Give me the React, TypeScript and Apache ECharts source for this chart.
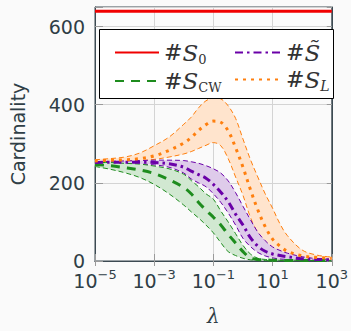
import React, { useEffect, useRef } from 'react';
import * as echarts from 'echarts';

// log10(lambda) sample positions
const exps = [-5, -4.5, -4, -3.5, -3, -2.5, -2, -1.75, -1.5, -1.25, -1, -0.75, -0.5, -0.25, 0, 0.25, 0.5, 0.75, 1, 1.25, 1.5, 2, 2.5, 3];

// #S_0 (constant)
const s0Exps = [-5, 3];
const s0Values = [639, 639];

// #S_L (orange)
const slMean = [256, 258, 259, 262, 269, 283, 302, 316, 334, 349, 358, 355, 333, 290, 240, 183, 131, 88, 56, 38, 25, 13, 9, 7];
const slUpper = [259, 262, 266, 276, 295, 317, 350, 368, 392, 410, 417, 415, 397, 365, 312, 260, 215, 172, 135, 95, 65, 28, 15, 10];
const slLower = [253, 254, 255, 257, 260, 266, 274, 280, 288, 296, 303, 295, 262, 215, 168, 112, 72, 48, 30, 20, 13, 6, 4, 3];

// #S~ (purple)
const stMean = [252, 253, 253, 253, 252, 249, 240, 230, 221, 212, 196, 176, 152, 120, 92, 60, 38, 25, 18, 14, 11, 6, 4, 3];
const stUpper = [254, 255, 256, 257, 258, 258, 257, 254, 250, 244, 236, 225, 205, 175, 140, 106, 74, 52, 36, 27, 20, 11, 6, 4];
const stLower = [250, 250, 249, 248, 246, 240, 225, 210, 200, 190, 172, 150, 123, 92, 58, 37, 22, 13, 8, 5, 4, 3, 2, 1];

// #S_CW (green)
const cwMean = [247, 244, 239, 233, 224, 208, 188, 172, 150, 130, 112, 92, 68, 46, 24, 8, 4, 3, 2, 2, 1, 1, 1, 1];
const cwUpper = [252, 252, 250, 248, 243, 236, 222, 206, 190, 172, 158, 128, 100, 70, 40, 18, 7, 4, 3, 2, 2, 2, 1, 1];
const cwLower = [242, 235, 226, 214, 196, 172, 143, 126, 110, 92, 72, 47, 24, 14, 7, 3, 2, 1, 1, 1, 1, 1, 1, 0];

const xTickExps = [-5, -3, -1, 1, 3];
const yTicks = [0, 200, 400, 600];

const RED = '#f00000';
const GREEN = '#1e8c1e';
const PURPLE = '#6a00a8';
const ORANGE = '#ff7f0e';
const TXT = '#2f3e46';
const SMOOTH = 0.35;

const xy = (ex: number[], vals: number[]) => ex.map((e, i) => [Math.pow(10, e), vals[i]]);

function band(id: string, lower: number[], upper: number[], color: string, fill: string) {
  const rows = exps.map((e, i) => [Math.pow(10, e), lower[i], upper[i]]);
  return {
    name: id, type: 'custom', silent: true, z: 2,
    data: rows,
    encode: { x: 0, y: [1, 2] },
    renderItem: (params: any, api: any) => {
      if (params.dataIndex !== 0) return null;
      const up = rows.map((r) => api.coord([r[0], r[2]]));
      const lo = rows.map((r) => api.coord([r[0], r[1]]));
      const edge = { stroke: color, lineWidth: 1, lineDash: [5, 3], fill: 'none' };
      return {
        type: 'group',
        children: [
          { type: 'polygon', shape: { points: up.concat(lo.slice().reverse()), smooth: SMOOTH }, style: { fill, stroke: 'none' } },
          { type: 'polyline', shape: { points: up, smooth: SMOOTH }, style: edge },
          { type: 'polyline', shape: { points: lo, smooth: SMOOTH }, style: edge },
        ],
      };
    },
  };
}

const legendNames: Record<string, string> = {
  S0: '{h|#}{s|S}{subr|0}',
  SCW: '{h|#}{s|S}{subr|CW}',
  St: '{h|#}{s|S\u0303}',
  SL: '{h|#}{s|S}{sub|L}',
};

const legendRich = {
  h: { fontFamily: 'DejaVu Serif', fontSize: 22, color: '#333', lineHeight: 26 },
  s: { fontFamily: 'DejaVu Serif', fontStyle: 'italic', fontSize: 23, color: '#333', lineHeight: 26 },
  sub: { fontFamily: 'DejaVu Serif', fontStyle: 'italic', fontSize: 14, color: '#333', lineHeight: 14, verticalAlign: 'bottom' },
  subr: { fontFamily: 'DejaVu Serif', fontSize: 13, color: '#333', lineHeight: 14, verticalAlign: 'bottom' },
};

export default function App() {
  const ref = useRef<HTMLDivElement>(null);
  useEffect(() => {
    if (!ref.current) return;
    const chart = echarts.init(ref.current, undefined, { renderer: 'svg' });
    const legendBase = {
      orient: 'vertical',
      top: 36,
      itemHeight: 14,
      itemGap: 4,
      selectedMode: false,
      z: 6,
      formatter: (n: string) => legendNames[n] || n,
      textStyle: { rich: legendRich },
      itemStyle: { color: 'rgba(0,0,0,0)', borderColor: 'rgba(0,0,0,0)', borderWidth: 0 },
    };
    chart.setOption({
      animation: false,
      backgroundColor: '#fafafa',
      grid: { left: 92, right: 16, top: 7, bottom: 65, show: true, borderColor: '#3c4a52', borderWidth: 1, backgroundColor: 'transparent' },
      graphic: [
        {
          type: 'rect', z: 5, shape: { x: 99.5, y: 29.5, width: 234, height: 69 },
          style: { fill: '#ffffff', stroke: '#000000', lineWidth: 1 },
        },
      ],
      legend: [
        { ...legendBase, left: 109, itemWidth: 44, data: ['S0', 'SCW'] },
        { ...legendBase, left: 229, itemWidth: 46, data: ['St', 'SL'] },
      ],
      xAxis: [
        {
          type: 'log', logBase: 10, min: 1e-5, max: 1e3, interval: 2,
          axisLine: { show: true, lineStyle: { color: '#3c4a52', width: 1 } },
          axisTick: { show: true, inside: true, length: 7, lineStyle: { color: '#9a9a9a' } },
          splitLine: { show: true, lineStyle: { color: '#d4d4d4', width: 1 } },
          axisLabel: {
            margin: 7,
            formatter: (v: number) => {
              const e = Math.round(Math.log10(v));
              if (!xTickExps.includes(e)) return '';
              return '{b|10}{s|' + (e < 0 ? '\u2212' + -e : String(e)) + '}';
            },
            rich: {
              b: { fontFamily: 'DejaVu Sans', fontSize: 19, color: TXT, lineHeight: 26 },
              s: { fontFamily: 'DejaVu Sans', fontSize: 13, color: TXT, lineHeight: 14, verticalAlign: 'top' },
            },
          },
          name: '\u03bb', nameLocation: 'middle', nameGap: 45,
          nameTextStyle: { fontFamily: 'DejaVu Serif', fontStyle: 'italic', fontSize: 20, color: TXT },
        },
        {
          type: 'log', logBase: 10, min: 1e-5, max: 1e3, interval: 2, position: 'top',
          axisLine: { show: true, lineStyle: { color: '#3c4a52' } },
          axisTick: { show: true, inside: true, length: 5, lineStyle: { color: '#9a9a9a' } },
          axisLabel: { show: false }, splitLine: { show: false },
        },
      ],
      yAxis: [
        {
          type: 'value', min: 0, max: 650, interval: 200,
          axisLine: { show: true, lineStyle: { color: '#3c4a52', width: 1 } },
          axisTick: { show: true, inside: true, length: 8, lineStyle: { color: '#9a9a9a' } },
          splitLine: { show: true, lineStyle: { color: '#d4d4d4', width: 1 } },
          axisLabel: {
            margin: 10, fontFamily: 'DejaVu Sans', fontSize: 19, color: TXT,
            formatter: (v: number) => (yTicks.includes(v) ? String(v) : ''),
          },
          name: 'Cardinality', nameLocation: 'middle', nameGap: 68,
          nameTextStyle: { fontFamily: 'DejaVu Sans', fontSize: 19, color: TXT },
        },
        {
          type: 'value', min: 0, max: 650, interval: 200, position: 'right',
          axisLine: { show: true, lineStyle: { color: '#3c4a52' } },
          axisTick: { show: true, inside: true, length: 5, lineStyle: { color: '#9a9a9a' } },
          axisLabel: { show: false }, splitLine: { show: false },
        },
      ],
      series: [
        band('bL', slLower, slUpper, ORANGE, '#ffe4cd'),
        band('bT', stLower, stUpper, PURPLE, '#decbea'),
        band('bC', cwLower, cwUpper, GREEN, '#d1e8d1'),
        {
          name: 'SCW', type: 'line', data: xy(exps, cwMean), smooth: SMOOTH, symbol: 'none', z: 3,
          lineStyle: { color: GREEN, width: 3, type: [9, 7], cap: 'butt' }, itemStyle: { color: GREEN },
        },
        {
          name: 'St', type: 'line', data: xy(exps, stMean), smooth: SMOOTH, symbol: 'none', z: 3,
          lineStyle: { color: PURPLE, width: 3, type: [8, 4, 2.5, 4], cap: 'butt' }, itemStyle: { color: PURPLE },
        },
        {
          name: 'SL', type: 'line', data: xy(exps, slMean), smooth: SMOOTH, symbol: 'none', z: 3,
          lineStyle: { color: ORANGE, width: 3, type: [3, 5], cap: 'butt' }, itemStyle: { color: ORANGE },
        },
        {
          name: 'S0', type: 'line', data: xy(s0Exps, s0Values), symbol: 'none', z: 4,
          lineStyle: { color: RED, width: 3 }, itemStyle: { color: RED },
        },
      ],
    });
    return () => chart.dispose();
  }, []);
  return <div ref={ref} style={{ position: 'fixed', left: 0, top: 0, width: 351, height: 331 }} />;
}
